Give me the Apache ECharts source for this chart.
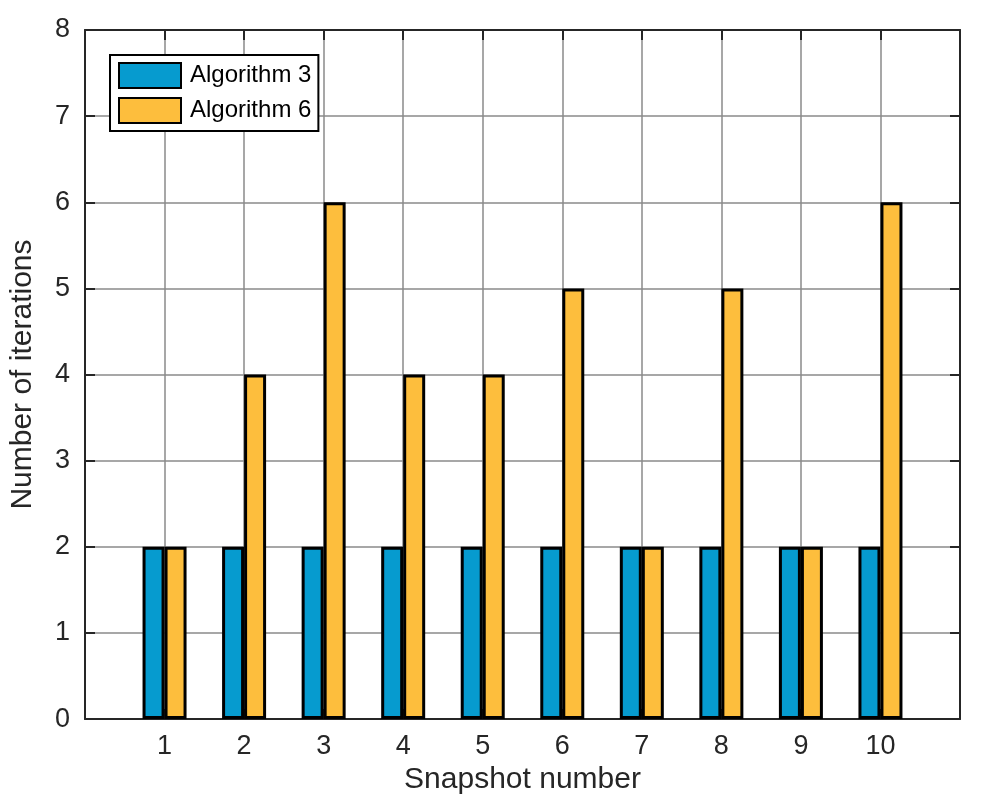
<!DOCTYPE html>
<html lang="en">
<head>
  <meta charset="UTF-8">
  <title>iterations</title>
  <style>
    html, body { margin: 0; padding: 0; background: #fff; }
    #chart { width: 1002px; height: 800px; }
  </style>
</head>
<body>
  <div id="chart"></div>
  <script src="https://cdn.jsdelivr.net/npm/echarts@6/dist/echarts.min.js"></script>
  <script>
    var snapshots = [1, 2, 3, 4, 5, 6, 7, 8, 9, 10]
    var algo3 = [2, 2, 2, 2, 2, 2, 2, 2, 2, 2]
    var algo6 = [2, 4, 6, 4, 4, 5, 2, 5, 2, 6]

    function pairs (ys) {
      return snapshots.map(function (x, i) { return [x, ys[i]] })
    }

    var font = 'Liberation Sans, Arial, sans-serif'
    var dark = '#262626'

    var myChart = echarts.init(document.getElementById('chart'))

    // mirrored axes for the box look (top and right), ticks only
    var boxAxis = {
      axisLine: { show: true, onZero: false, lineStyle: { color: dark, width: 2 } },
      axisTick: { show: true, inside: true, length: 10, lineStyle: { color: dark, width: 2 } },
      axisLabel: { show: false },
      splitLine: { show: false }
    }

    var option = {
      animation: false,
      backgroundColor: '#fff',
      textStyle: { fontFamily: font },
      grid: { left: 85, right: 42, top: 30, bottom: 80 },
      legend: {
        orient: 'vertical',
        left: 110,
        top: 55,
        padding: [7, 7, 7, 8],
        itemGap: 8,
        itemWidth: 62,
        itemHeight: 25,
        icon: 'rect',
        backgroundColor: '#fff',
        borderColor: '#000',
        borderWidth: 2,
        borderRadius: 0,
        textStyle: { fontSize: 24, lineHeight: 26, color: '#000', fontFamily: font, padding: [0, 0, 0, 4] },
        data: ['Algorithm 3', 'Algorithm 6']
      },
      xAxis: [
        {
          type: 'value',
          min: 0,
          max: 11,
          interval: 1,
          name: 'Snapshot number',
          nameLocation: 'middle',
          nameGap: 41,
          nameTextStyle: { fontSize: 30, color: dark, fontFamily: font },
          axisLine: { show: true, onZero: false, lineStyle: { color: dark, width: 2 } },
          axisTick: { show: true, inside: true, length: 10, lineStyle: { color: dark, width: 2 } },
          axisLabel: {
            fontSize: 27,
            color: dark,
            margin: 14,
            formatter: function (v) { return (v >= 1 && v <= 10) ? String(v) : '' }
          },
          splitLine: { show: true, lineStyle: { color: '#8a8a8a', width: 1.5 } }
        },
        Object.assign({ type: 'value', position: 'top', min: 0, max: 11, interval: 1 }, boxAxis)
      ],
      yAxis: [
        {
          type: 'value',
          min: 0,
          max: 8,
          interval: 1,
          name: 'Number of iterations',
          nameLocation: 'middle',
          nameGap: 47,
          nameTextStyle: { fontSize: 30, color: dark, fontFamily: font },
          axisLine: { show: true, onZero: false, lineStyle: { color: dark, width: 2 } },
          axisTick: { show: true, inside: true, length: 10, lineStyle: { color: dark, width: 2 } },
          axisLabel: { fontSize: 27, color: dark, margin: 15 },
          splitLine: { show: true, lineStyle: { color: '#8a8a8a', width: 1.5 } }
        },
        Object.assign({ type: 'value', position: 'right', min: 0, max: 8, interval: 1 }, boxAxis)
      ],
      series: [
        {
          name: 'Algorithm 3',
          type: 'bar',
          barWidth: 22,
          barGap: '0%',
          itemStyle: { color: '#069bcf', borderColor: '#000', borderWidth: 3 },
          data: pairs(algo3)
        },
        {
          name: 'Algorithm 6',
          type: 'bar',
          barWidth: 22,
          barGap: '0%',
          itemStyle: { color: '#fdbe3d', borderColor: '#000', borderWidth: 3 },
          data: pairs(algo6)
        }
      ]
    }

    myChart.setOption(option)
  </script>
</body>
</html>
